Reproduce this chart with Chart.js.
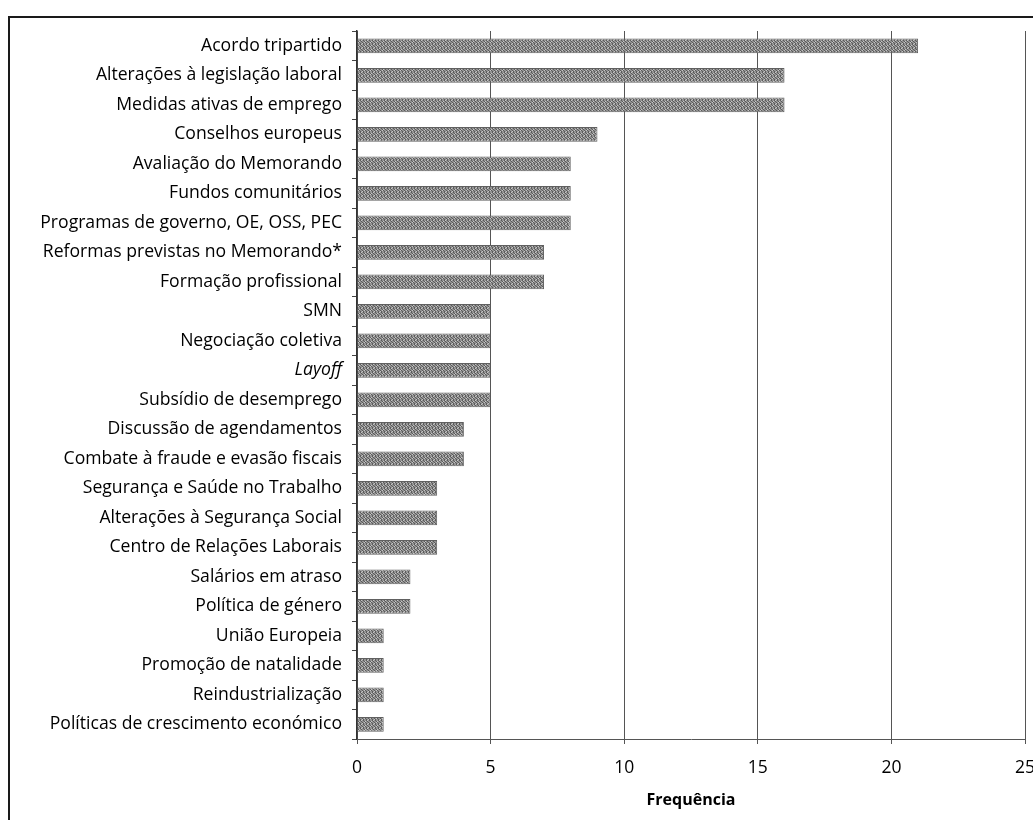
<!DOCTYPE html>
<html>
<head>
<meta charset="utf-8">
<script src="https://cdn.jsdelivr.net/npm/chart.js@4"></script>
<style>
  html, body { margin: 0; padding: 0; background: #fff; overflow: hidden; width: 1033px; height: 820px; }
  #frame { position: absolute; left: 8px; top: 16px; width: 1060px; height: 820px; border-left: 2px solid #1a1a1a; border-top: 2px solid #1a1a1a; }
  #wrap { position: absolute; left: 0; top: 0; width: 1050px; height: 820px; }
</style>
</head>
<body>
<div id="frame"></div>
<div id="wrap"><canvas id="c" width="1050" height="820"></canvas></div>
<script>
// Topics and how often each came up
const topics = [
  'Acordo tripartido',
  'Alterações à legislação laboral',
  'Medidas ativas de emprego',
  'Conselhos europeus',
  'Avaliação do Memorando',
  'Fundos comunitários',
  'Programas de governo, OE, OSS, PEC',
  'Reformas previstas no Memorando*',
  'Formação profissional',
  'SMN',
  'Negociação coletiva',
  'Layoff',
  'Subsídio de desemprego',
  'Discussão de agendamentos',
  'Combate à fraude e evasão fiscais',
  'Segurança e Saúde no Trabalho',
  'Alterações à Segurança Social',
  'Centro de Relações Laborais',
  'Salários em atraso',
  'Política de género',
  'União Europeia',
  'Promoção de natalidade',
  'Reindustrialização',
  'Políticas de crescimento económico'
];
const frequency = [21, 16, 16, 9, 8, 8, 8, 7, 7, 5, 5, 5, 5, 4, 4, 3, 3, 3, 2, 2, 1, 1, 1, 1];
const italicTopics = ['Layoff'];
const xTicks = [0, 5, 10, 15, 20, 25];
const xTitle = 'Frequência';

// Grey stippled fill for the bars
function stipple() {
  const p = document.createElement('canvas');
  p.width = 6; p.height = 4;
  const g = p.getContext('2d');
  g.fillStyle = '#939393';
  g.fillRect(0, 0, 6, 4);
  g.fillStyle = '#5a5a5a';
  const dots = [[0,0],[3,0],[1,1],[4,1],[2,2],[5,2],[0,3],[3,3]];
  dots.forEach(([x, y]) => g.fillRect(x, y, 1, 1));
  g.fillStyle = '#c4c4c4';
  [[1,0],[4,2],[2,3],[5,1]].forEach(([x, y]) => g.fillRect(x, y, 1, 1));
  return g.createPattern(p, 'repeat');
}

const FONT = '"Open Sans", Lato, sans-serif';
const ctx = document.getElementById('c').getContext('2d');

new Chart(ctx, {
  type: 'bar',
  data: {
    labels: topics,
    datasets: [{
      data: frequency,
      backgroundColor: stipple(),
      borderColor: '#606060',
      borderWidth: 1,
      borderSkipped: 'left',
      barPercentage: 0.5,
      categoryPercentage: 1
    }]
  },
  options: {
    indexAxis: 'y',
    responsive: false,
    animation: false,
    layout: { padding: { left: 0, right: 25, top: 31, bottom: 0 } },
    plugins: { legend: { display: false }, tooltip: { enabled: false } },
    scales: {
      y: {
        grid: { display: true, drawOnChartArea: false, offset: true, color: '#444', tickLength: 5, lineWidth: 1 },
        border: { display: true, color: '#333', width: 1.5 },
        ticks: {
          color: '#000',
          padding: 10,
          font: c => ({
            family: FONT,
            size: 17.6,
            style: italicTopics.includes(topics[c.index]) ? 'italic' : 'normal'
          })
        },
        afterFit: s => { s.width = 357; }
      },
      x: {
        min: 0,
        max: 25,
        afterBuildTicks: s => { s.ticks = xTicks.map(v => ({ value: v })); },
        grid: { color: '#555', lineWidth: 1, tickLength: 5, drawTicks: true },
        border: { display: true, color: '#555', width: 1 },
        ticks: { color: '#000', padding: 14, font: { family: FONT, size: 17.5 } },
        title: { display: true, text: xTitle, color: '#000', padding: { top: 2, bottom: 10 }, font: { family: FONT, size: 16, weight: 'bold' } },
        afterFit: s => { s.height = 81; }
      }
    }
  }
});
</script>
</body>
</html>
